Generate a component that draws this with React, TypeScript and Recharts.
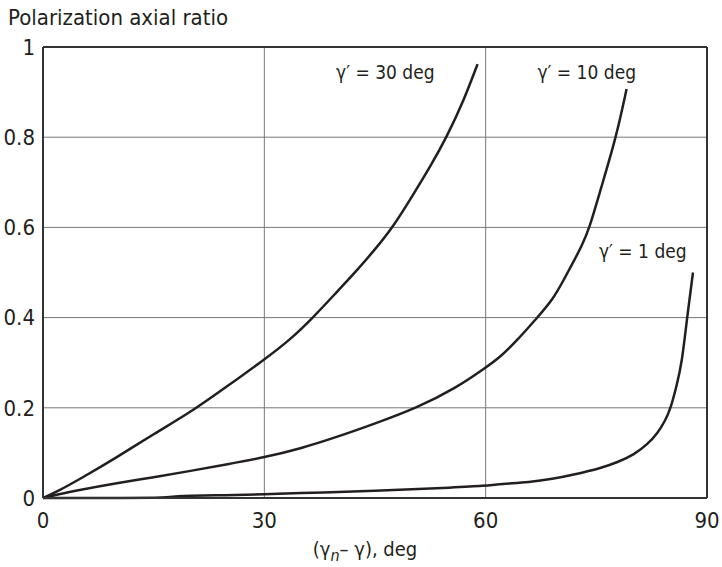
import { LineChart, Line, XAxis, YAxis, CartesianGrid, ReferenceLine, ReferenceDot } from "recharts";

// gamma' = 30 deg
const x30 = [0, 2, 5, 10, 15, 20, 25, 30, 33.5, 36.6, 40, 42.3, 45, 47.4, 50, 52.5, 54.7, 57, 58.9];
const y30 = [0, 0.015, 0.042, 0.09, 0.142, 0.19, 0.248, 0.307, 0.351, 0.4, 0.46, 0.5, 0.551, 0.6, 0.668, 0.735, 0.8, 0.88, 0.962];

// gamma' = 10 deg
const x10 = [0, 2, 5, 10, 15, 20, 25, 30, 35, 40, 45, 50.7, 56, 60, 62, 64, 67, 69.1, 70.6, 71.9, 73, 74.1, 75.5, 77.7, 79.1];
const y10 = [0, 0.008, 0.018, 0.033, 0.046, 0.06, 0.075, 0.09, 0.11, 0.136, 0.165, 0.2, 0.244, 0.289, 0.313, 0.345, 0.4, 0.44, 0.484, 0.524, 0.558, 0.6, 0.68, 0.8, 0.907];

// gamma' = 1 deg
const x1 = [0, 5, 10, 17, 18, 25, 30, 35, 40, 45, 50, 55, 60, 62, 66, 69, 72, 75.6, 78, 80.1, 82, 83.3, 84.3, 85.1, 85.9, 86.6, 87.3, 88.1];
const y1 = [0, 0, 0, 0, 0.005, 0.006, 0.008, 0.011, 0.013, 0.016, 0.019, 0.023, 0.027, 0.031, 0.035, 0.042, 0.052, 0.066, 0.08, 0.096, 0.12, 0.144, 0.17, 0.2, 0.25, 0.3, 0.4, 0.5];

const xTicks = [0, 30, 60, 90];
const yTicks = [0, 0.2, 0.4, 0.6, 0.8, 1];

const curveLabels = ["γ′ = 30 deg", "γ′ = 10 deg", "γ′ = 1 deg"];
const labelX = [46.4, 73.7, 81.3];
const labelY = [0.944, 0.944, 0.547];

const zip = (xs: number[], ys: number[]) => xs.map((x, i) => ({ x, y: ys[i] }));

const FONT = "'DejaVu Sans Condensed', 'Liberation Sans', sans-serif";
const INK = "#231f20";

function AxisTitle({ viewBox }: any) {
  const cx = viewBox.x + viewBox.width / 2 - 10;
  return (
    <text x={cx} y={556} textAnchor="middle" fontFamily={FONT} fontSize={20} fill={INK}>
      <tspan>(γ</tspan>
      <tspan dy={5} fontSize={16} fontStyle="italic">n</tspan>
      <tspan dy={-5}>– γ),  deg</tspan>
    </text>
  );
}

export default function App() {
  const tick = { fill: INK, fontSize: 22, fontFamily: FONT };
  return (
    <div style={{ width: 722, height: 567, position: "relative", background: "#fff" }}>
      <style>{`body{margin:0}`}</style>
      <div
        style={{
          position: "absolute",
          left: 8,
          top: 5,
          fontFamily: FONT,
          fontSize: 22,
          color: INK,
        }}
      >
        Polarization axial ratio
      </div>
      <LineChart width={722} height={567} margin={{ top: 47, right: 15, bottom: 39, left: 8 }}>
        <CartesianGrid stroke="#777" strokeWidth={1} />
        <XAxis
          type="number"
          dataKey="x"
          domain={[0, 90]}
          ticks={xTicks}
          tick={tick}
          tickLine={false}
          tickSize={6}
          tickMargin={8}
          axisLine={{ stroke: "#333", strokeWidth: 2 }}
          height={30}
          label={<AxisTitle />}
        />
        <YAxis
          type="number"
          dataKey="y"
          domain={[0, 1]}
          ticks={yTicks}
          tick={tick}
          tickLine={false}
          tickSize={6}
          tickMargin={2}
          axisLine={{ stroke: "#333", strokeWidth: 2 }}
          width={35}
        />
        <ReferenceLine y={1} stroke="#333" strokeWidth={2} />
        <ReferenceLine x={90} stroke="#333" strokeWidth={2} />
        <Line data={zip(x30, y30)} dataKey="y" type="basis" stroke={INK} strokeWidth={2.5} dot={false} isAnimationActive={false} />
        <Line data={zip(x10, y10)} dataKey="y" type="basis" stroke={INK} strokeWidth={2.5} dot={false} isAnimationActive={false} />
        <Line data={zip(x1, y1)} dataKey="y" type="basis" stroke={INK} strokeWidth={2.5} dot={false} isAnimationActive={false} />
        {curveLabels.map((t, i) => (
          <ReferenceDot
            key={t}
            x={labelX[i]}
            y={labelY[i]}
            r={0}
            fill="none"
            stroke="none"
            label={{ value: t, position: "center", fill: INK, fontSize: 19, fontFamily: FONT }}
          />
        ))}
      </LineChart>
    </div>
  );
}
